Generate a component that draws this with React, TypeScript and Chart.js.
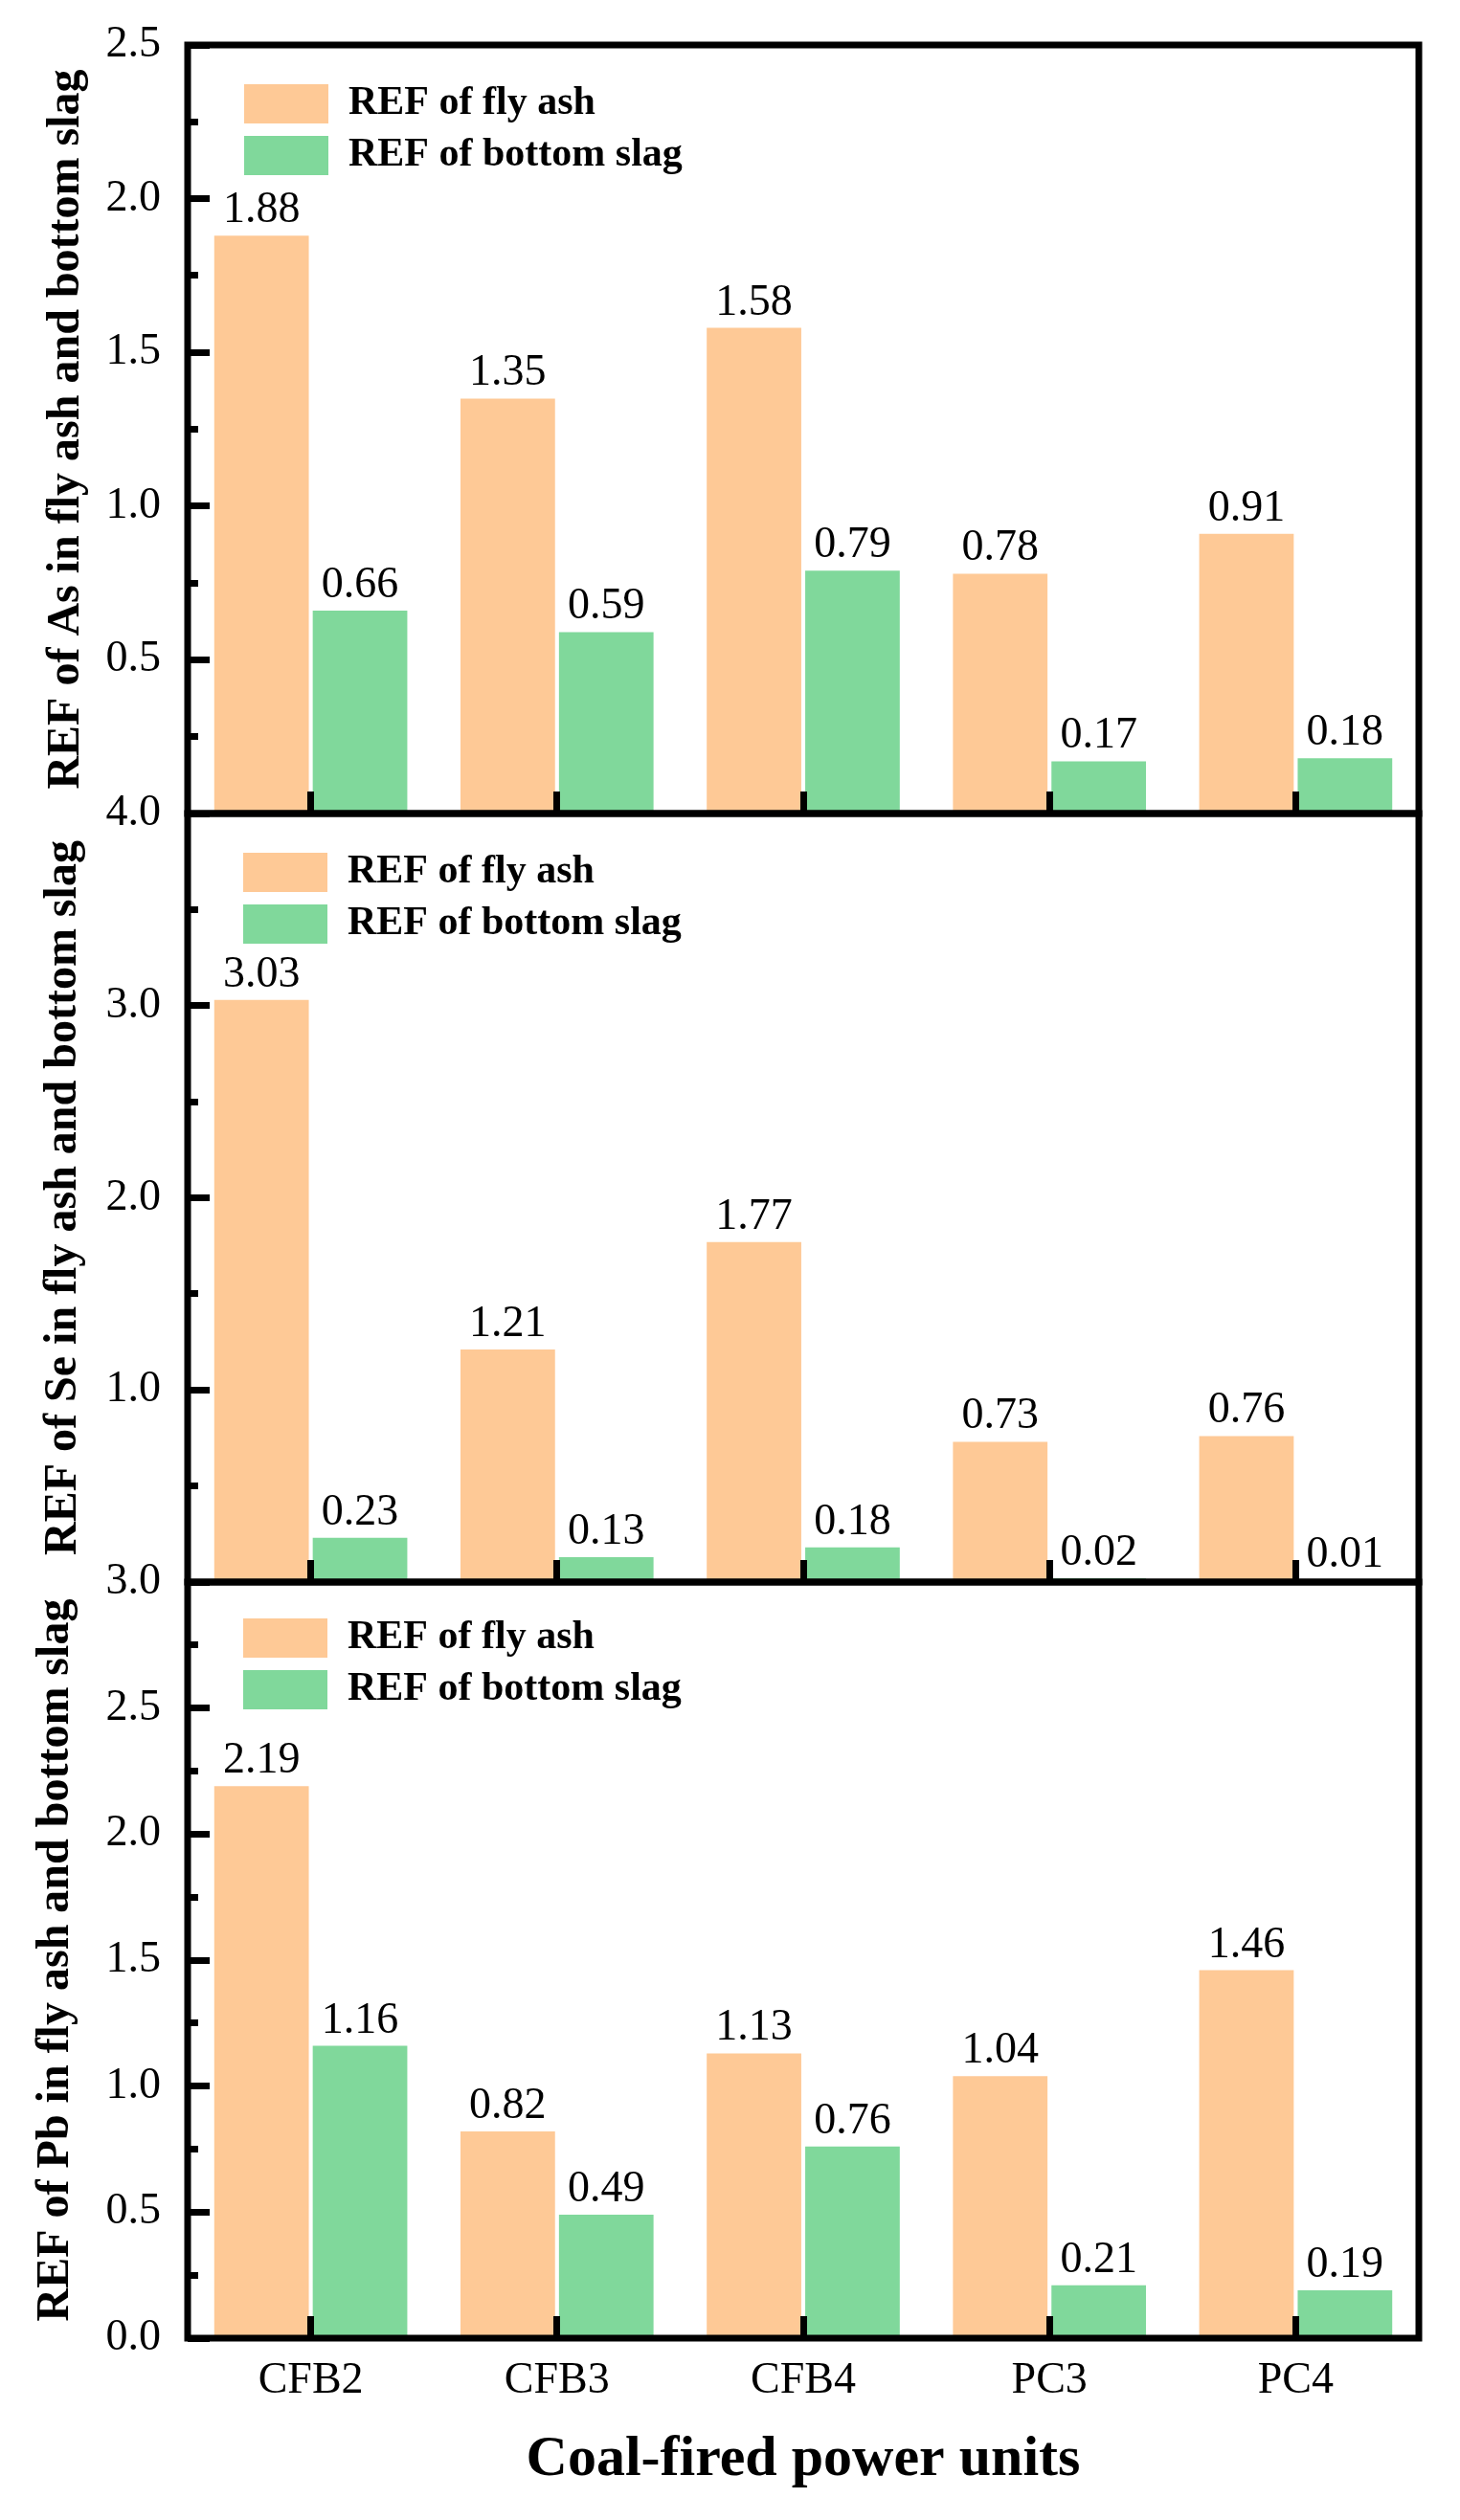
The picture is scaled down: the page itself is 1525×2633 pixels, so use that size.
import React, { useEffect, useRef } from 'react';
import { Chart, registerables } from 'chart.js';

Chart.register(...registerables);

// ---------- data ----------
const categories = ['CFB2', 'CFB3', 'CFB4', 'PC3', 'PC4'];
const seriesNames = ['REF of fly ash', 'REF of bottom slag'];

const asFlyAsh = [1.88, 1.35, 1.58, 0.78, 0.91];
const asBottomSlag = [0.66, 0.59, 0.79, 0.17, 0.18];

const seFlyAsh = [3.03, 1.21, 1.77, 0.73, 0.76];
const seBottomSlag = [0.23, 0.13, 0.18, 0.02, 0.01];

const pbFlyAsh = [2.19, 0.82, 1.13, 1.04, 1.46];
const pbBottomSlag = [1.16, 0.49, 0.76, 0.21, 0.19];

const yTitles = [
  'REF of As in fly ash and bottom slag',
  'REF of Se in fly ash and bottom slag',
  'REF of Pb in fly ash and bottom slag',
];
const yMax = [2.5, 4.0, 3.0];
const yMajorStep = [0.5, 1.0, 0.5];
const yMinorStep = [0.25, 0.5, 0.25];
const xTitle = 'Coal-fired power units';

// ---------- styling / layout ----------
const ORANGE = '#FEC996';
const GREEN = '#80D89B';
const FONT = '"Liberation Serif", "Times New Roman", Times, serif';
const W = 1525;
const AREA_LEFT = 196;
const AREA_RIGHT = 1482;

const PANELS = [
  { canvasTop: 0, areaTop: 47, areaBottom: 850, canvasBottom: 880, titlePad: 41, legendDx: 47, legendDy: 28.5 },
  { canvasTop: 800, areaTop: 850, areaBottom: 1653, canvasBottom: 1683, titlePad: 38, legendDx: 46, legendDy: 28.5 },
  { canvasTop: 1600, areaTop: 1653, areaBottom: 2443, canvasBottom: 2633, titlePad: 30, legendDx: 46, legendDy: 25.5 },
];

const panelData = [
  [asFlyAsh, asBottomSlag],
  [seFlyAsh, seBottomSlag],
  [pbFlyAsh, pbBottomSlag],
];

const valueLabelPlugin = {
  id: 'valueLabels',
  afterDatasetsDraw(chart: any) {
    const ctx = chart.ctx;
    ctx.save();
    ctx.font = `46px ${FONT}`;
    ctx.fillStyle = '#000';
    ctx.textAlign = 'center';
    ctx.textBaseline = 'alphabetic';
    chart.data.datasets.forEach((ds: any, di: number) => {
      const meta = chart.getDatasetMeta(di);
      meta.data.forEach((el: any, i: number) => {
        const v = Number(ds.data[i]);
        ctx.fillText(v.toFixed(2), el.x, el.y - 14);
      });
    });
    ctx.restore();
  },
};

const framePlugin = {
  id: 'frame',
  afterDraw(chart: any) {
    const { ctx, chartArea: a } = chart;
    ctx.save();
    ctx.strokeStyle = '#000';
    ctx.lineWidth = 7;
    ctx.lineJoin = 'miter';
    ctx.strokeRect(a.left, a.top, a.right - a.left, a.bottom - a.top);
    ctx.restore();
  },
};

function legendShift(dx: number, dy: number) {
  return {
    id: 'legendShift',
    afterLayout(chart: any) {
      const lg = chart.legend;
      if (!lg) return;
      const a = chart.chartArea;
      lg.left = a.left + dx;
      lg.top = a.top + dy;
    },
  };
}

function zeroPad(scale: any) {
  scale.paddingTop = 0;
  scale.paddingBottom = 0;
  scale.paddingLeft = 0;
  scale.paddingRight = 0;
}

function buildConfig(idx: number): any {
  const p = PANELS[idx];
  const isBottom = idx === PANELS.length - 1;
  const height = p.canvasBottom - p.canvasTop;
  const [fly, slag] = panelData[idx];
  const hideZero = !isBottom;

  return {
    type: 'bar',
    data: {
      labels: categories,
      datasets: [
        { label: seriesNames[0], data: fly, backgroundColor: ORANGE, borderWidth: 0, yAxisID: 'y' },
        { label: seriesNames[1], data: slag, backgroundColor: GREEN, borderWidth: 0, yAxisID: 'y' },
      ],
    },
    options: {
      animation: false,
      responsive: false,
      devicePixelRatio: 1,
      events: [],
      datasets: { bar: { categoryPercentage: 0.8, barPercentage: 0.96 } },
      layout: {
        padding: {
          left: 0,
          right: W - AREA_RIGHT,
          top: p.areaTop - p.canvasTop,
          bottom: isBottom ? 0 : height - (p.areaBottom - p.canvasTop),
        },
      },
      plugins: {
        tooltip: { enabled: false },
        legend: {
          display: true,
          position: 'chartArea',
          align: 'start',
          labels: {
            boxWidth: 88,
            boxHeight: 41,
            padding: 12,
            color: '#000',
            font: { family: FONT, size: 42, weight: 'bold' },
          },
        },
      },
      scales: {
        x: {
          type: 'category',
          position: 'bottom',
          offset: true,
          grid: {
            offset: false,
            drawOnChartArea: false,
            drawTicks: true,
            tickLength: -23,
            tickWidth: 7,
            tickColor: '#000',
            z: 1,
          },
          border: { display: false },
          ticks: {
            display: isBottom,
            color: '#000',
            padding: 40,
            maxRotation: 0,
            autoSkip: false,
            font: { family: FONT, size: 46 },
          },
          title: {
            display: isBottom,
            text: xTitle,
            color: '#000',
            font: { family: FONT, size: 60, weight: 'bold' },
            padding: { top: 0, bottom: 27 },
          },
          afterFit: (scale: any) => {
            scale.height = isBottom ? height - (p.areaBottom - p.canvasTop) : 0;
            zeroPad(scale);
          },
        },
        y: {
          type: 'linear',
          position: 'left',
          weight: 1,
          min: 0,
          max: yMax[idx],
          grid: {
            drawOnChartArea: false,
            drawTicks: true,
            tickLength: -23,
            tickWidth: 7,
            tickColor: '#000',
            z: 1,
          },
          border: { display: false },
          ticks: {
            stepSize: yMajorStep[idx],
            color: '#000',
            padding: 51,
            font: { family: FONT, size: 46 },
            callback: (v: any) => (hideZero && Number(v) === 0 ? '' : Number(v).toFixed(1)),
          },
          title: {
            display: true,
            text: yTitles[idx],
            color: '#000',
            font: { family: FONT, size: 48, weight: 'bold' },
            padding: { top: p.titlePad, bottom: 0 },
          },
          afterFit: (scale: any) => {
            scale.width = AREA_LEFT;
            zeroPad(scale);
          },
        },
        yMinor: {
          type: 'linear',
          position: 'left',
          weight: 0,
          min: 0,
          max: yMax[idx],
          grid: {
            drawOnChartArea: false,
            drawTicks: true,
            tickLength: -11,
            tickWidth: 7,
            tickColor: '#000',
            z: 1,
          },
          border: { display: false },
          ticks: { display: false, stepSize: yMinorStep[idx] },
          title: { display: false },
          afterFit: (scale: any) => {
            scale.width = 0;
            zeroPad(scale);
          },
        },
      },
    },
    plugins: [valueLabelPlugin, framePlugin, legendShift(p.legendDx, p.legendDy)],
  };
}

export default function App() {
  const r0 = useRef<HTMLCanvasElement>(null);
  const r1 = useRef<HTMLCanvasElement>(null);
  const r2 = useRef<HTMLCanvasElement>(null);
  const refs = [r0, r1, r2];

  useEffect(() => {
    document.body.style.margin = '0';
    document.body.style.overflow = 'hidden';
    const charts = refs.map((r, i) => new Chart(r.current as HTMLCanvasElement, buildConfig(i)));
    return () => charts.forEach((c) => c.destroy());
  }, []);

  return (
    <div style={{ position: 'absolute', left: 0, top: 0, width: W, height: 2633, background: '#fff', overflow: 'hidden' }}>
      {PANELS.map((p, i) => (
        <canvas
          key={i}
          ref={refs[i]}
          width={W}
          height={p.canvasBottom - p.canvasTop}
          style={{ position: 'absolute', left: 0, top: p.canvasTop, width: W, height: p.canvasBottom - p.canvasTop }}
        />
      ))}
    </div>
  );
}
